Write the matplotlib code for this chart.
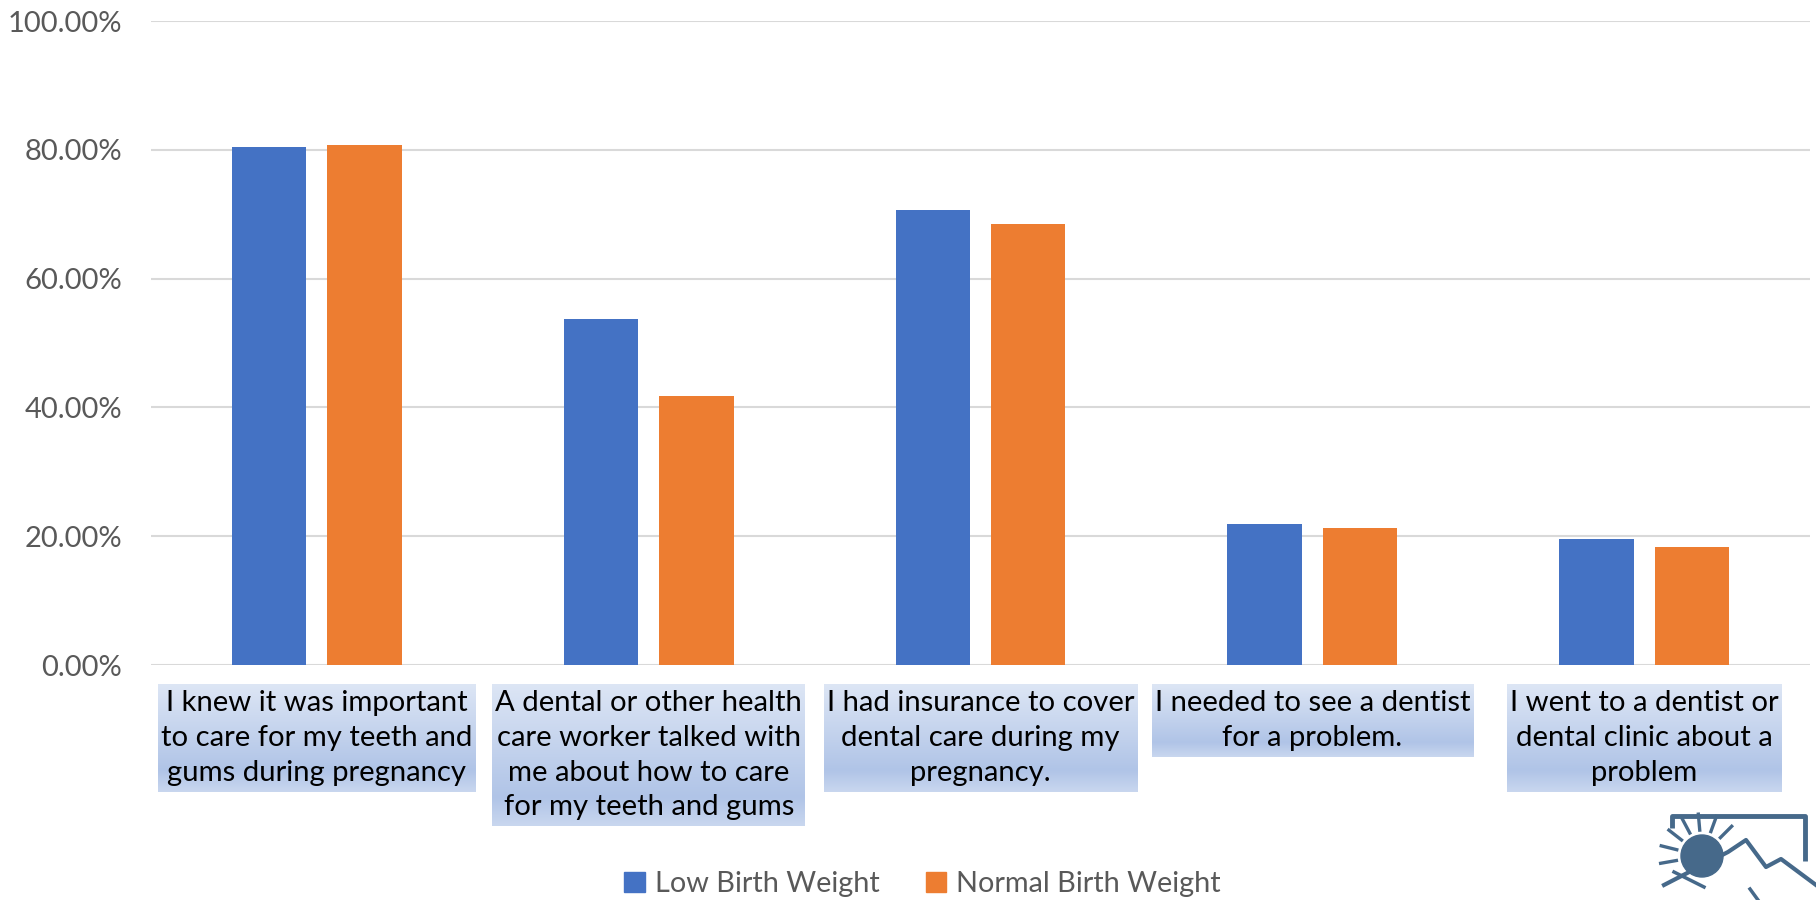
import numpy as np
import matplotlib
matplotlib.use("Agg")
import matplotlib.pyplot as plt
from matplotlib.patches import Patch, Circle
from matplotlib.colors import LinearSegmentedColormap

categories = [
    "I knew it was important\nto care for my teeth and\ngums during pregnancy",
    "A dental or other health\ncare worker talked with\nme about how to care\nfor my teeth and gums",
    "I had insurance to cover\ndental care during my\npregnancy.",
    "I needed to see a dentist\nfor a problem.",
    "I went to a dentist or\ndental clinic about a\nproblem",
]
low_bw = [80.5, 53.7, 70.7, 21.9, 19.5]
normal_bw = [80.7, 41.8, 68.5, 21.2, 18.3]
series_names = ["Low Birth Weight", "Normal Birth Weight"]
yticks = [0, 20, 40, 60, 80, 100]

BLUE = "#4472C4"
ORANGE = "#ED7D31"
GRID = "#D9D9D9"
TXT = "#595959"

plt.rcParams['font.family'] = ['Lato', 'DejaVu Sans']

W, H = 1816, 900
fig = plt.figure(figsize=(W / 100, H / 100), dpi=100)
left, right = 151 / W, 1810 / W
bottom, top = 1 - 665 / H, 1 - 21 / H
ax = fig.add_axes([left, bottom, right - left, top - bottom])

x = np.arange(len(categories))
bw = 0.224
off = 0.1436
ax.bar(x - off, low_bw, bw, color=BLUE, zorder=3, label=series_names[0])
ax.bar(x + off, normal_bw, bw, color=ORANGE, zorder=3, label=series_names[1])

ax.set_xlim(-0.5, len(categories) - 0.5)
ax.set_ylim(0, 100)
ax.set_yticks(yticks)
ax.set_yticklabels([f"{v:.2f}%" for v in yticks], fontsize=21, color=TXT)
ax.set_xticks([])
ax.tick_params(axis='y', length=0, pad=21)
ax.grid(axis='y', color=GRID, linewidth=1.5, zorder=0)
for s in ax.spines.values():
    s.set_visible(False)

# category labels with gradient boxes
texts = []
for i, lab in enumerate(categories):
    fx = left + (i + 0.5) / len(categories) * (right - left)
    t = fig.text(fx, 1 - 690 / H, lab, ha='center', va='top', multialignment='center',
                 fontsize=21.1, color='black', linespacing=1.42, zorder=5)
    texts.append(t)

fig.canvas.draw()
renderer = fig.canvas.get_renderer()
grad_cmap = LinearSegmentedColormap.from_list(
    "g", [(0, "#DDE6F5"), (0.8, "#B0C4E7"), (1.0, "#C9D7EF")])
grad = np.linspace(0, 1, 256).reshape(-1, 1)
for t in texts:
    bb = t.get_window_extent(renderer)
    px, py = 3, 6
    x0, x1 = bb.x0 - px, bb.x1 + px
    y0, y1 = bb.y0 - py, bb.y1 + py
    gax = fig.add_axes([x0 / W, y0 / H, (x1 - x0) / W, (y1 - y0) / H], zorder=1)
    gax.imshow(grad, aspect='auto', cmap=grad_cmap, extent=[0, 1, 0, 1], origin='upper')
    gax.set_axis_off()

# legend
handles = [Patch(color=BLUE, label=series_names[0]), Patch(color=ORANGE, label=series_names[1])]
fig.legend(handles=handles, loc='center', bbox_to_anchor=(0.508, 1 - 884 / H), ncol=2,
           frameon=False, fontsize=20.8, handlelength=0.7, handleheight=0.7,
           handletextpad=0.35, columnspacing=1.6, labelcolor=TXT)

# logo (approximation) in pixel coordinates
lax = fig.add_axes([1650 / W, 0, 166 / W, 100 / H], zorder=2)
lax.set_xlim(1650, 1816)
lax.set_ylim(900, 800)
lax.set_axis_off()
LC = "#46698A"
lax.plot([1672, 1672, 1805, 1805], [828, 816, 816, 861], color=LC, lw=3.5, solid_capstyle='butt')
lax.add_patch(Circle((1702, 856), 21, color=LC))
for ang in [95, 118, 142, 166, 190, 70, 45]:
    a = np.deg2rad(ang)
    r0, r1 = 26, 42
    lax.plot([1702 + r0 * np.cos(a), 1702 + r1 * np.cos(a)],
             [856 - r0 * np.sin(a), 856 - r1 * np.sin(a)], color=LC, lw=2.4)
lax.plot([1664, 1728, 1746, 1766, 1781, 1816], [885, 852, 840, 867, 859, 885],
         color=LC, lw=3)
lax.plot([1674, 1704], [872, 887], color=LC, lw=2.5)
lax.plot([1758, 1750], [900, 889], color=LC, lw=2.5)

fig.savefig("out.png", dpi=100)
